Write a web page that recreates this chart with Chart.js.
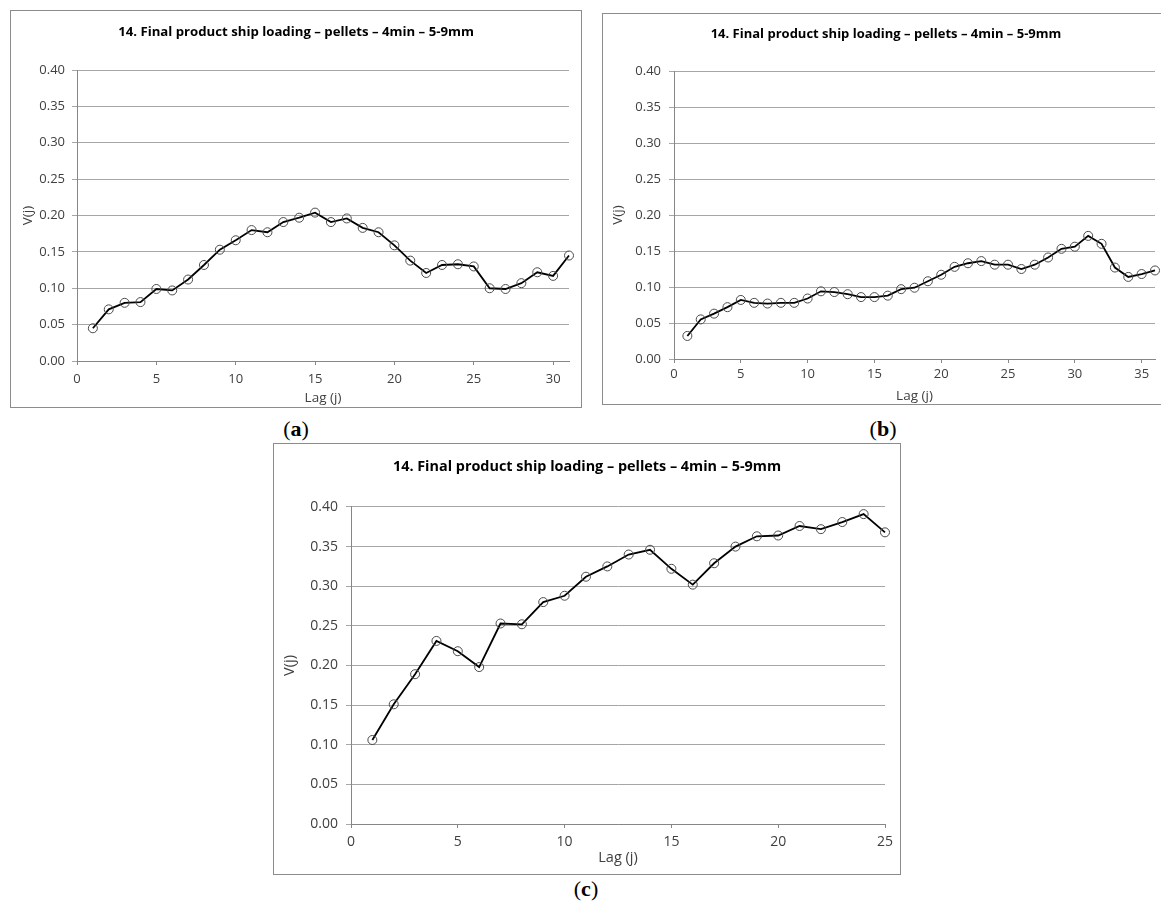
<!DOCTYPE html>
<html>
<head>
<meta charset="utf-8">
<script src="https://cdn.jsdelivr.net/npm/chart.js@4.4.1/dist/chart.umd.min.js"></script>
<style>
  body { margin: 0; width: 1161px; height: 909px; overflow: hidden; background: #fff; position: relative; }
  .box { position: absolute; border: 1px solid #8c8c8c; box-sizing: border-box; background: #fff; overflow: hidden; }
  .box canvas { position: absolute; left: 0; top: 0; }
  .lbl { position: absolute; font-family: "Liberation Serif", "DejaVu Serif", serif; font-size: 22px; color: #000;
         transform: translate(-50%, -50%); white-space: nowrap; }
</style>
</head>
<body>
<div class="box" style="left:10px;top:10px;width:572px;height:398px"><canvas id="chartA" width="570" height="396"></canvas></div>
<div class="box" style="left:602px;top:13px;width:570px;height:392px"><canvas id="chartB" width="558" height="390"></canvas></div>
<div class="box" style="left:273px;top:443px;width:628px;height:432px"><canvas id="chartC" width="626" height="430"></canvas></div>
<div class="lbl" style="left:296px;top:429px">(<b>a</b>)</div>
<div class="lbl" style="left:883px;top:429px">(<b>b</b>)</div>
<div class="lbl" style="left:586px;top:889px">(<b>c</b>)</div>

<script>
const chartTitle = '14. Final product ship loading – pellets – 4min – 5-9mm';
const xTitle = 'Lag (j)';
const yTitle = 'V(j)';

// (a) 31 lags
const lagA = Array.from({length: 31}, (_, i) => i + 1);
const vA = [0.045, 0.071, 0.080, 0.081, 0.099, 0.097, 0.112, 0.132, 0.153, 0.166,
            0.180, 0.177, 0.191, 0.197, 0.204, 0.191, 0.196, 0.183, 0.177, 0.159,
            0.138, 0.121, 0.132, 0.133, 0.130, 0.100, 0.099, 0.107, 0.122, 0.117,
            0.145];

// (b) 36 lags
const lagB = Array.from({length: 36}, (_, i) => i + 1);
const vB = [0.032, 0.055, 0.063, 0.072, 0.082, 0.078, 0.077, 0.078, 0.078, 0.084,
            0.094, 0.093, 0.090, 0.086, 0.086, 0.088, 0.097, 0.099, 0.108, 0.117,
            0.128, 0.133, 0.136, 0.131, 0.131, 0.125, 0.131, 0.141, 0.153, 0.156,
            0.171, 0.160, 0.127, 0.114, 0.118, 0.123];

// (c) 25 lags
const lagC = Array.from({length: 25}, (_, i) => i + 1);
const vC = [0.106, 0.151, 0.189, 0.231, 0.218, 0.198, 0.253, 0.252, 0.280, 0.288,
            0.312, 0.325, 0.340, 0.346, 0.322, 0.302, 0.329, 0.350, 0.363, 0.364,
            0.376, 0.372, 0.381, 0.391, 0.368];

const fontFamily = '"Open Sans", "Liberation Sans", sans-serif';
const textColor = '#404040';
const axisColor = '#868686';
const gridColor = '#a6a6a6';

function drawChart(canvasId, lags, values, o) {
    const ctx = document.getElementById(canvasId).getContext('2d');
    const points = lags.map((lag, i) => ({x: lag, y: values[i]}));
    return new Chart(ctx, {
        type: 'scatter',
        data: {
            datasets: [{
                data: points,
                showLine: true,
                borderColor: '#000',
                borderWidth: 1.8,
                pointRadius: 4.5,
                pointBorderWidth: 1,
                pointBorderColor: '#4a4a4a',
                pointBackgroundColor: 'rgba(0,0,0,0)',
                clip: false
            }]
        },
        options: {
            responsive: false,
            animation: false,
            events: [],
            // left/right padding keeps the title centred on the whole box
            layout: {padding: {left: o.padLeft, right: o.padRight, top: 0, bottom: 0}},
            plugins: {
                legend: {display: false},
                tooltip: {enabled: false},
                title: {
                    display: true,
                    text: chartTitle,
                    color: '#000',
                    font: {family: fontFamily, size: o.titleSize, weight: 'bold'},
                    padding: {top: o.titleTop, bottom: o.titleBottom}
                }
            },
            scales: {
                x: {
                    type: 'linear',
                    min: 0,
                    max: o.xMax,
                    ticks: {
                        stepSize: 5,
                        includeBounds: false,
                        padding: o.xTickPad,
                        color: textColor,
                        font: {family: fontFamily, size: o.tickSize}
                    },
                    grid: {drawOnChartArea: false, drawTicks: true, tickLength: 4, color: axisColor},
                    border: {color: axisColor, width: 1},
                    title: {
                        display: true,
                        text: xTitle,
                        color: textColor,
                        font: {family: fontFamily, size: o.axisTitleSize},
                        padding: {top: 0, bottom: o.xTitlePad}
                    },
                    afterFit: scale => { scale.height = o.xHeight; }
                },
                y: {
                    min: 0,
                    max: 0.4,
                    ticks: {
                        stepSize: 0.05,
                        padding: o.yTickPad,
                        color: textColor,
                        font: {family: fontFamily, size: o.tickSize},
                        callback: v => v.toFixed(2)
                    },
                    grid: {color: gridColor, tickLength: 5},
                    border: {color: axisColor, width: 1},
                    title: {
                        display: true,
                        text: yTitle,
                        color: textColor,
                        font: {family: fontFamily, size: o.axisTitleSize},
                        padding: {top: o.yTitlePad, bottom: 0}
                    },
                    afterFit: scale => { scale.width = o.yWidth; }
                }
            }
        }
    });
}

drawChart('chartA', lagA, vA, {
    xMax: 31, padLeft: 12, padRight: 12, yWidth: 54, xHeight: 46,
    titleSize: 13.2, titleTop: 13.5, titleBottom: 29.7,
    tickSize: 13, axisTitleSize: 13.5, xTickPad: 6, xTitlePad: 0.5, yTickPad: 7, yTitlePad: -3
});

drawChart('chartB', lagB, vB, {
    xMax: 36, padLeft: 14, padRight: 6, yWidth: 57, xHeight: 45,
    titleSize: 13, titleTop: 12.2, titleBottom: 29.2,
    tickSize: 13, axisTitleSize: 13.5, xTickPad: 3, xTitlePad: 0, yTickPad: 8, yTitlePad: -7.4
});

drawChart('chartC', lagC, vC, {
    xMax: 25, padLeft: 15, padRight: 15, yWidth: 62, xHeight: 50,
    titleSize: 14.4, titleTop: 14.4, titleBottom: 31.3,
    tickSize: 14, axisTitleSize: 14.5, xTickPad: 5.6, xTitlePad: 7, yTickPad: 8, yTitlePad: -7.7
});
</script>
</body>
</html>
